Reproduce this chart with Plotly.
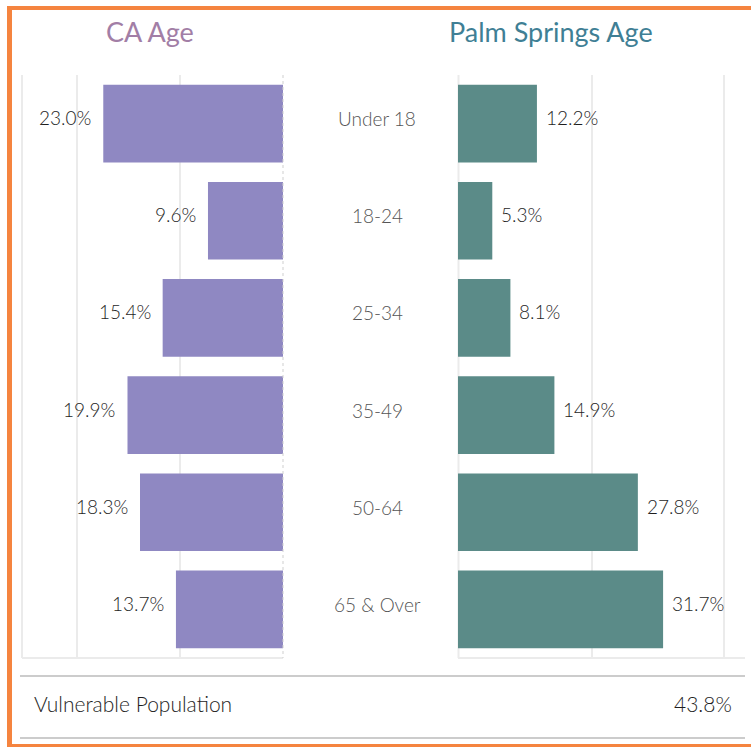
import plotly.graph_objects as go

categories = ["Under 18", "18-24", "25-34", "35-49", "50-64", "65 & Over"]
ca_values = [23.0, 9.6, 15.4, 19.9, 18.3, 13.7]
ps_values = [12.2, 5.3, 8.1, 14.9, 27.8, 31.7]
summary_label = "Vulnerable Population"
summary_value = 43.8

W, H = 751, 747
FONT = "Lato"

def px(x):
    return x / W

def py(y):
    return 1 - y / H

PURPLE = "#8f88c2"
TEAL = "#5b8b88"
GRID = "#ebebeb"

fig = go.Figure()
fig.add_trace(go.Bar(
    x=ca_values, y=categories, orientation="h",
    marker=dict(color=PURPLE, line=dict(width=0)),
    width=0.8, xaxis="x", yaxis="y", hoverinfo="skip",
))
fig.add_trace(go.Bar(
    x=ps_values, y=categories, orientation="h",
    marker=dict(color=TEAL, line=dict(width=0)),
    width=0.8, xaxis="x2", yaxis="y2", hoverinfo="skip",
))

ydom = [py(658), py(75)]
fig.update_layout(
    width=W, height=H,
    margin=dict(l=0, r=0, t=0, b=0),
    paper_bgcolor="white", plot_bgcolor="white",
    showlegend=False,
    bargap=0.2,
    font=dict(family=FONT, color="#333333"),
    xaxis=dict(domain=[px(22), px(283)], range=[33.4, 0],
               tickvals=[13.2, 26.3], showticklabels=False,
               showgrid=True, gridcolor=GRID, gridwidth=2,
               zeroline=False, showline=False, anchor="y"),
    xaxis2=dict(domain=[px(458), px(745)], range=[0, 44.36],
                tickvals=[20.7, 41.1], showticklabels=False,
                showgrid=True, gridcolor=GRID, gridwidth=2,
                zeroline=False, showline=False, anchor="y2"),
    yaxis=dict(domain=ydom, categoryorder="array", categoryarray=categories,
               range=[5.5, -0.5], showticklabels=False, showgrid=False,
               zeroline=False, anchor="x"),
    yaxis2=dict(domain=ydom, matches="y", showticklabels=False, showgrid=False,
                zeroline=False, anchor="x2"),
)

LBL = "#1e1e1e"
ann = []
for c, v in zip(categories, ca_values):
    ann.append(dict(x=v, y=c, xref="x", yref="y", text=f"{v:.1f}%",
                    showarrow=False, xanchor="right", xshift=-10, yshift=6,
                    font=dict(size=19, color=LBL, family=FONT, weight=300)))
for c, v in zip(categories, ps_values):
    ann.append(dict(x=v, y=c, xref="x2", yref="y2", text=f"{v:.1f}%",
                    showarrow=False, xanchor="left", xshift=7, yshift=6,
                    font=dict(size=19, color=LBL, family=FONT, weight=300)))
for c in categories:
    ann.append(dict(x=px(377), y=c, xref="paper", yref="y", text=c,
                    showarrow=False, xanchor="center", yshift=5,
                    font=dict(size=19, color="#555555", family=FONT, weight=300)))
ann.append(dict(x=px(150), y=py(32), xref="paper", yref="paper", text="CA Age",
                showarrow=False, xanchor="center", yanchor="middle",
                font=dict(size=27, color="#a27ea6", family=FONT)))
ann.append(dict(x=px(551), y=py(32), xref="paper", yref="paper", text="Palm Springs Age",
                showarrow=False, xanchor="center", yanchor="middle",
                font=dict(size=27, color="#3f7f95", family=FONT)))
ann.append(dict(x=px(32), y=py(703), xref="paper", yref="paper", text=summary_label,
                showarrow=False, xanchor="left", yanchor="middle",
                font=dict(size=21, color=LBL, family=FONT, weight=300)))
ann.append(dict(x=px(734), y=py(703), xref="paper", yref="paper", text=f"{summary_value:.1f}%",
                showarrow=False, xanchor="right", yanchor="middle",
                font=dict(size=21, color=LBL, family=FONT, weight=300)))
fig.update_layout(annotations=ann)

shapes = [
    dict(type="line", xref="paper", yref="paper", x0=px(22), x1=px(22), y0=py(75), y1=py(658),
         line=dict(color=GRID, width=2)),
    dict(type="line", xref="paper", yref="paper", x0=px(22), x1=px(283), y0=py(658), y1=py(658),
         line=dict(color=GRID, width=2)),
    dict(type="line", xref="paper", yref="paper", x0=px(283), x1=px(283), y0=py(75), y1=py(658),
         line=dict(color="#cfcfcf", width=1, dash="dot"), layer="above"),
    dict(type="line", xref="paper", yref="paper", x0=px(458.5), x1=px(458.5), y0=py(75), y1=py(658),
         line=dict(color=GRID, width=2), layer="below"),
    dict(type="line", xref="paper", yref="paper", x0=px(458), x1=px(745), y0=py(658), y1=py(658),
         line=dict(color=GRID, width=2)),
    dict(type="line", xref="paper", yref="paper", x0=px(20), x1=px(745), y0=py(676), y1=py(676),
         line=dict(color="#cccccc", width=2)),
    dict(type="line", xref="paper", yref="paper", x0=px(20), x1=px(745), y0=py(738), y1=py(738),
         line=dict(color="#cccccc", width=2)),
    dict(type="line", xref="paper", yref="paper", x0=px(7), x1=px(751), y0=py(8), y1=py(8),
         line=dict(color="#f5843f", width=4)),
    dict(type="line", xref="paper", yref="paper", x0=px(9.5), x1=px(9.5), y0=py(6), y1=py(747),
         line=dict(color="#f5843f", width=5)),
    dict(type="line", xref="paper", yref="paper", x0=px(7), x1=px(751), y0=py(745.5), y1=py(745.5),
         line=dict(color="#f5843f", width=3)),
]
fig.update_layout(shapes=shapes)

fig.write_html("out.html", config={"displayModeBar": False},
               post_script="document.body.style.margin='0';document.body.style.overflow='hidden';")
